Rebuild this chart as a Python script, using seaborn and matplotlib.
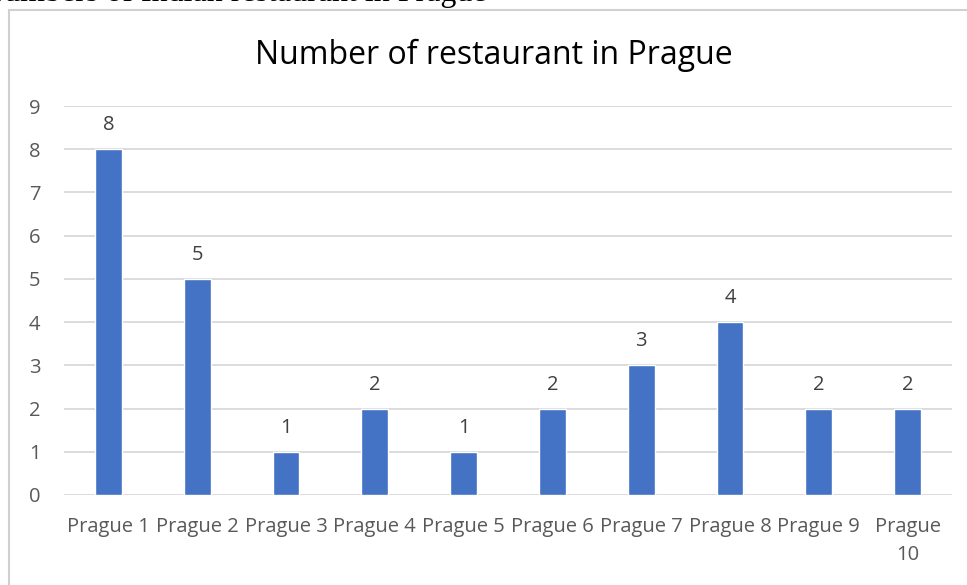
import numpy as np
import pandas as pd
import seaborn as sns
import matplotlib.pyplot as plt
from matplotlib.patches import Rectangle

districts = ["Prague 1", "Prague 2", "Prague 3", "Prague 4", "Prague 5",
             "Prague 6", "Prague 7", "Prague 8", "Prague 9", "Prague 10"]
tick_labels = ["Prague 1", "Prague 2", "Prague 3", "Prague 4", "Prague 5",
               "Prague 6", "Prague 7", "Prague 8", "Prague 9", "Prague\n10"]
counts = [8, 5, 1, 2, 1, 2, 3, 4, 2, 2]

df = pd.DataFrame(dict(district=districts, n=counts))

sns.set_theme(style="white")
plt.rcParams['font.family'] = ['Open Sans', 'DejaVu Sans']

fig = plt.figure(figsize=(9.67, 5.85), dpi=100)
ax = fig.add_axes([64/967, 1-495/585, (952-64)/967, (495-106)/585])

sns.barplot(data=df, x="district", y="n", color="#4472C4", width=0.3,
            saturation=1, ax=ax, zorder=3)
ax.bar_label(ax.containers[0], padding=10, fontsize=14.5, color="#404040")

ax.set_ylim(0, 9)
ax.set_xlim(-0.5, 9.5)
ax.set_yticks(range(10))
ax.yaxis.grid(True, color="#d9d9d9", lw=1.3, zorder=0)
ax.set_axisbelow(True)
ax.set_xticks(range(10))
ax.set_xticklabels(tick_labels, fontsize=14.5, color="#595959", linespacing=1.5)
ax.tick_params(axis="y", labelsize=14.5, labelcolor="#595959", length=0, pad=17)
ax.tick_params(axis="x", length=0, pad=16)
ax.set_xlabel("")
ax.set_ylabel("")
sns.despine(ax=ax, left=True, bottom=True, top=True, right=True)

fig.text(494/967, 1-55/585, "Number of restaurant in Prague", ha="center",
         va="center", fontsize=23, color="#000000")

# chart frame and cut-off caption of the source document
fig.patches.append(Rectangle((9/967, -0.1), 1.2, 1-10/585+0.1, fill=False,
                             edgecolor="#d0d0d0", lw=1.5,
                             transform=fig.transFigure, figure=fig))
fig.text(-0.02, 1-1/585, "Numbers of Indian restaurant in Prague", ha="left",
         va="baseline", fontsize=23, family="Liberation Serif", color="#000000")

plt.savefig("out.png", dpi=100)
